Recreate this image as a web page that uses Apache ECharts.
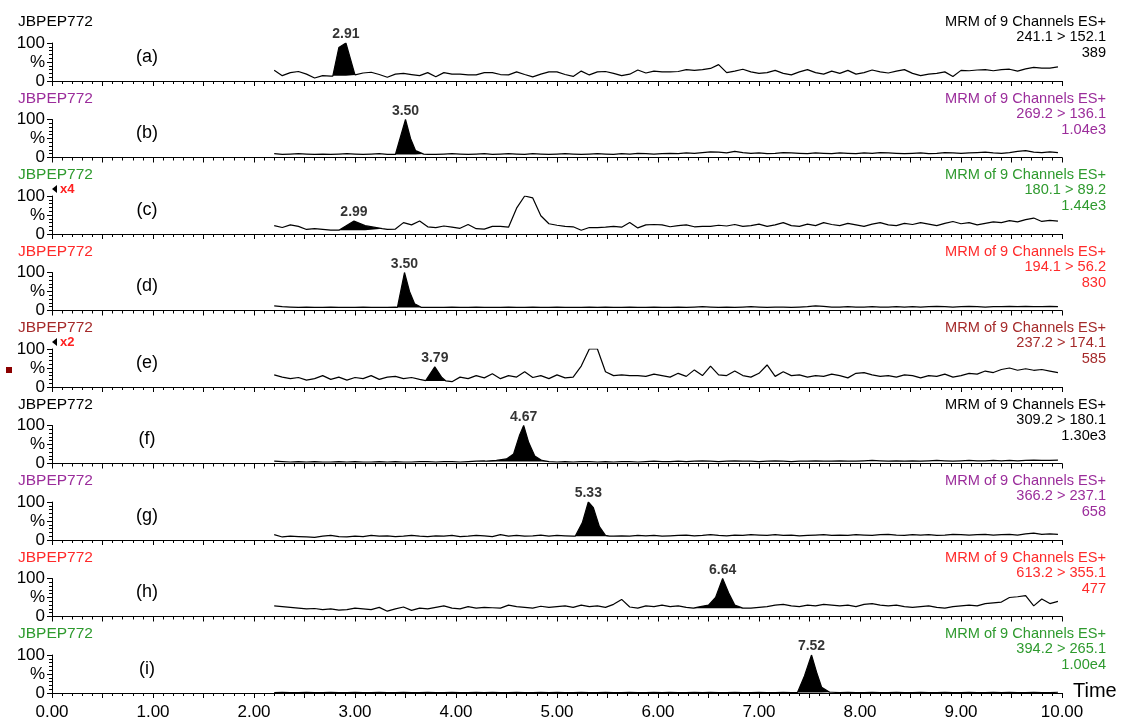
<!DOCTYPE html>
<html>
<head>
<meta charset="utf-8">
<title>MRM chromatograms JBPEP772</title>
<script src="https://cdn.jsdelivr.net/npm/echarts@6.0.0/dist/echarts.min.js"></script>
<style>
  html, body { margin: 0; padding: 0; background: #fff; }
  #chart { width: 1122px; height: 723px; }
</style>
</head>
<body>
<div id="chart"></div>
<script>
// sampling times (min) shared by all traces
const TIMES = [
  2.20, 2.28, 2.36, 2.44, 2.52, 2.60, 2.68, 2.76, 2.84, 2.92,
  3.00, 3.08, 3.16, 3.24, 3.32, 3.40, 3.48, 3.56, 3.64, 3.72,
  3.80, 3.88, 3.96, 4.04, 4.12, 4.20, 4.28, 4.36, 4.44, 4.52,
  4.60, 4.68, 4.76, 4.84, 4.92, 5.00, 5.08, 5.16, 5.24, 5.32,
  5.40, 5.48, 5.56, 5.64, 5.72, 5.80, 5.88, 5.96, 6.04, 6.12,
  6.20, 6.28, 6.36, 6.44, 6.52, 6.60, 6.68, 6.76, 6.84, 6.92,
  7.00, 7.08, 7.16, 7.24, 7.32, 7.40, 7.48, 7.56, 7.64, 7.72,
  7.80, 7.88, 7.96, 8.04, 8.12, 8.20, 8.28, 8.36, 8.44, 8.52,
  8.60, 8.68, 8.76, 8.84, 8.92, 9.00, 9.08, 9.16, 9.24, 9.32,
  9.40, 9.48, 9.56, 9.64, 9.72, 9.80, 9.88, 9.96
];

// relative intensity (%) of each channel on TIMES
const A_VALUES = [
  28, 14, 22, 25, 18, 8, 14, 13, 15, 15,
  16, 21, 23, 17, 10, 18, 20, 17, 14, 22,
  11, 22, 18, 18, 16, 16, 22, 22, 17, 16,
  24, 17, 11, 18, 24, 24, 17, 12, 26, 16,
  24, 25, 20, 14, 18, 29, 21, 26, 24, 24,
  25, 30, 28, 30, 33, 43, 22, 26, 31, 24,
  20, 22, 28, 20, 16, 24, 30, 22, 18, 26,
  20, 28, 18, 22, 29, 24, 21, 26, 30, 20,
  14, 18, 20, 24, 12, 28, 27, 29, 30, 27,
  30, 31, 26, 32, 36, 34, 34, 37
];
const B_VALUES = [
  10, 8, 9, 10, 9, 8, 9, 8, 9, 10,
  9, 8, 9, 10, 8, 9, 9, 9, 9, 8,
  8, 9, 10, 9, 8, 9, 10, 8, 9, 10,
  9, 8, 10, 9, 8, 9, 10, 9, 8, 9,
  10, 9, 8, 10, 9, 11, 10, 9, 10, 11,
  10, 12, 11, 13, 15, 14, 12, 16, 13, 11,
  12, 10, 11, 13, 12, 11, 10, 12, 11, 10,
  12, 11, 10, 12, 11, 13, 12, 11, 10, 11,
  12, 10, 11, 13, 12, 11, 12, 13, 14, 12,
  11, 13, 16, 18, 14, 13, 15, 13
];
const C_VALUES = [
  22, 17, 24, 20, 12, 14, 12, 10, 10, 20,
  30, 22, 17, 15, 12, 13, 30, 24, 34, 19,
  17, 21, 18, 15, 25, 14, 13, 20, 20, 18,
  68, 100, 95, 48, 27, 23, 20, 19, 10, 17,
  17, 18, 20, 18, 30, 16, 24, 25, 24, 19,
  22, 24, 19, 20, 20, 23, 21, 25, 20, 22,
  26, 20, 24, 30, 22, 20, 26, 22, 30, 25,
  22, 28, 24, 20, 26, 30, 24, 22, 28, 25,
  30, 26, 22, 28, 33, 27, 30, 24, 28, 32,
  30, 35, 32, 38, 42, 33, 36, 34
];
const D_VALUES = [
  12, 10, 9, 8, 9, 8, 8, 9, 8, 8,
  8, 9, 8, 8, 8, 9, 8, 8, 9, 8,
  8, 8, 9, 8, 8, 9, 8, 8, 8, 9,
  8, 8, 9, 8, 8, 9, 8, 8, 8, 9,
  8, 9, 8, 8, 9, 8, 8, 9, 8, 8,
  9, 8, 9, 10, 9, 8, 9, 8, 9, 10,
  9, 8, 9, 9, 8, 9, 10, 12, 11, 9,
  9, 10, 9, 9, 10, 9, 9, 10, 9, 10,
  9, 10, 11, 10, 9, 10, 11, 10, 9, 10,
  10, 11, 10, 11, 10, 10, 11, 10
];
const E_VALUES = [
  32, 26, 22, 25, 18, 22, 30, 20, 26, 18,
  25, 22, 30, 20, 26, 28, 22, 25, 20, 18,
  20, 20, 14, 26, 22, 30, 24, 35, 22, 30,
  26, 40, 25, 30, 22, 32, 24, 26, 55, 100,
  100, 40, 30, 32, 30, 30, 28, 34, 30, 26,
  36, 28, 45, 30, 55, 32, 30, 42, 30, 26,
  36, 58, 28, 40, 30, 32, 26, 30, 28, 34,
  30, 24, 36, 38, 32, 28, 30, 26, 32, 30,
  24, 30, 28, 34, 26, 30, 36, 34, 42, 38,
  46, 50, 44, 48, 44, 46, 42, 38
];
const F_VALUES = [
  6, 5, 4, 5, 4, 5, 4, 4, 5, 4,
  5, 4, 4, 5, 4, 5, 4, 4, 5, 5,
  4, 5, 5, 4, 5, 6, 7, 6, 8, 10,
  20, 70, 30, 8, 5, 4, 5, 4, 5, 5,
  4, 5, 4, 5, 5, 4, 5, 6, 5, 5,
  6, 5, 6, 7, 6, 5, 6, 7, 6, 6,
  5, 6, 7, 6, 5, 6, 6, 7, 6, 6,
  7, 6, 6, 7, 8, 7, 6, 7, 6, 7,
  6, 7, 8, 7, 6, 7, 8, 7, 7, 8,
  7, 8, 7, 8, 9, 8, 8, 9
];
const G_VALUES = [
  14, 8, 10, 9, 8, 7, 10, 12, 9, 8,
  10, 9, 12, 10, 11, 9, 10, 12, 10, 9,
  11, 10, 12, 9, 10, 12, 11, 9, 14, 10,
  12, 10, 11, 13, 10, 12, 11, 10, 12, 40,
  50, 15, 10, 11, 10, 12, 11, 12, 10, 11,
  12, 13, 11, 12, 14, 12, 11, 13, 12, 14,
  13, 12, 14, 12, 13, 11, 12, 13, 14, 12,
  13, 12, 14, 13, 12, 14, 15, 13, 12, 14,
  13, 14, 12, 13, 15, 14, 13, 14, 15, 13,
  14, 15, 13, 16, 18, 15, 16, 15
];
const H_VALUES = [
  28, 26, 24, 22, 20, 21, 18, 20, 17, 18,
  22, 20, 18, 24, 14, 20, 25, 16, 22, 20,
  24, 28, 22, 20, 26, 22, 24, 23, 22, 30,
  26, 24, 22, 27, 24, 26, 28, 24, 30, 26,
  28, 24, 32, 45, 25, 22, 28, 26, 30, 26,
  28, 24, 22, 24, 26, 30, 28, 25, 24, 22,
  24, 26, 30, 32, 28, 26, 30, 28, 32, 30,
  28, 30, 26, 32, 34, 30, 28, 30, 26, 24,
  26, 28, 24, 22, 26, 28, 30, 28, 34, 36,
  38, 50, 52, 55, 28, 46, 34, 40
];
const I_VALUES = [
  1, 2, 1, 1, 2, 1, 1, 2, 1, 1,
  2, 1, 1, 2, 1, 1, 2, 1, 1, 2,
  1, 1, 2, 1, 1, 2, 1, 2, 1, 1,
  2, 1, 1, 2, 1, 2, 1, 1, 2, 1,
  1, 2, 1, 1, 2, 1, 1, 2, 1, 2,
  1, 1, 2, 1, 2, 1, 1, 2, 1, 1,
  2, 1, 1, 2, 1, 1, 2, 1, 1, 2,
  1, 2, 1, 1, 2, 1, 1, 2, 1, 1,
  2, 1, 1, 2, 1, 1, 2, 1, 1, 2,
  1, 2, 1, 1, 2, 1, 1, 2
];

// integrated peaks: [time, %]
const A_PEAK = [[2.78, 13], [2.84, 88], [2.91, 100], [3.00, 16]];
const B_PEAK = [[3.40, 8], [3.50, 100], [3.55, 50], [3.60, 18], [3.68, 9]];
const C_PEAK = [[2.84, 10], [2.99, 34], [3.10, 22], [3.27, 14]];
const D_PEAK = [[3.42, 8], [3.49, 100], [3.54, 50], [3.59, 18], [3.66, 8]];
const E_PEAK = [[3.70, 17], [3.79, 53], [3.86, 25], [3.90, 16]];
const F_PEAK = [[4.30, 6], [4.40, 8], [4.50, 12], [4.57, 25], [4.63, 75], [4.67, 100],
                [4.72, 55], [4.78, 20], [4.85, 8], [4.92, 5]];
const G_PEAK = [[5.18, 10], [5.25, 45], [5.31, 100], [5.36, 85], [5.42, 35], [5.48, 12], [5.52, 10]];
const H_PEAK = [[6.35, 22], [6.42, 26], [6.50, 30], [6.57, 50], [6.64, 100], [6.70, 62],
                [6.76, 30], [6.84, 22]];
const I_PEAK = [[7.38, 1], [7.45, 45], [7.52, 100], [7.57, 55], [7.62, 15], [7.70, 2]];

const PEAK_BASES = [14, 8, 10, 8, 16, 5, 10, 22, 1];
const PEAK_LABELS = ['2.91', '3.50', '2.99', '3.50', '3.79', '4.67', '5.33', '6.64', '7.52'];

const PANEL_TAGS = ['(a)', '(b)', '(c)', '(d)', '(e)', '(f)', '(g)', '(h)', '(i)'];
const TRANSITIONS = ['241.1 > 152.1', '269.2 > 136.1', '180.1 > 89.2', '194.1 > 56.2', '237.2 > 174.1',
                     '309.2 > 180.1', '366.2 > 237.1', '613.2 > 355.1', '394.2 > 265.1'];
const INTENSITIES = ['389', '1.04e3', '1.44e3', '830', '585', '1.30e3', '658', '477', '1.00e4'];
const SCALES = ['', '', 'x4', '', 'x2', '', '', '', ''];
const PANEL_COLORS = ['#000000', '#9b2d9b', '#2e9a2e', '#ff2a2a', '#a52a2a',
                      '#000000', '#9b2d9b', '#ff2a2a', '#2e9a2e'];

const VALUES = [A_VALUES, B_VALUES, C_VALUES, D_VALUES, E_VALUES, F_VALUES, G_VALUES, H_VALUES, I_VALUES];
const PEAKS = [A_PEAK, B_PEAK, C_PEAK, D_PEAK, E_PEAK, F_PEAK, G_PEAK, H_PEAK, I_PEAK];

const FONT = '"Liberation Sans", Arial, Helvetica, sans-serif';
const LEFT = 52, PLOT_W = 1010, FIRST_ZERO = 81, PITCH = 76.5, PANEL_H = 38;

// noise trace outside the peak + the peak points themselves
function traceLine(values, peak) {
  const start = peak[0][0], end = peak[peak.length - 1][0];
  const pts = [];
  TIMES.forEach((t, i) => {
    if (t < start || t > end) pts.push([t, values[i]]);
  });
  peak.forEach(p => pts.push(p));
  return pts.sort((a, b) => a[0] - b[0]);
}

function apexOf(peak) {
  let best = peak[0];
  peak.forEach(p => { if (p[1] > best[1]) best = p; });
  return best;
}

const grids = [], xAxes = [], yAxes = [], series = [], graphics = [];

VALUES.forEach((vals, k) => {
  const zero = FIRST_ZERO + PITCH * k;
  const last = k === VALUES.length - 1;
  const color = PANEL_COLORS[k];

  grids.push({ left: LEFT, width: PLOT_W, top: zero - PANEL_H, height: PANEL_H });

  xAxes.push({
    gridIndex: k, type: 'value', min: 0, max: 10, interval: 0.5,
    axisLine: { show: true, onZero: false, lineStyle: { color: '#000', width: 1 } },
    axisTick: { show: true, length: 5, lineStyle: { color: '#000', width: 1 } },
    minorTick: { show: true, splitNumber: 5, length: 3, lineStyle: { color: '#000', width: 1 } },
    splitLine: { show: false },
    axisLabel: {
      show: last, color: '#000', fontSize: 17, fontFamily: FONT, margin: 11,
      formatter: v => (Math.abs(v - Math.round(v)) < 1e-6 ? v.toFixed(2) : '')
    }
  });

  yAxes.push({
    gridIndex: k, type: 'value', min: 0, max: 100, interval: 50,
    axisLine: { show: true, lineStyle: { color: '#000', width: 1 } },
    axisTick: { show: true, length: 5, lineStyle: { color: '#000', width: 1 } },
    minorTick: { show: true, splitNumber: 5, length: 3, lineStyle: { color: '#000', width: 1 } },
    splitLine: { show: false },
    axisLabel: {
      color: '#000', fontSize: 17, fontFamily: FONT, margin: 7,
      formatter: v => (v === 50 ? '%' : String(v))
    }
  });

  const peak = PEAKS[k];
  // filled peak
  series.push({
    type: 'line', xAxisIndex: k, yAxisIndex: k, data: peak,
    symbol: 'none', silent: true, z: 2,
    lineStyle: { width: 0 },
    areaStyle: { color: '#000', opacity: 1, origin: PEAK_BASES[k] }
  });
  // chromatogram trace
  series.push({
    type: 'line', xAxisIndex: k, yAxisIndex: k, data: traceLine(vals, peak),
    symbol: 'none', silent: true, z: 3,
    lineStyle: { color: '#000', width: 1.2 }
  });
  // retention time label
  series.push({
    type: 'scatter', xAxisIndex: k, yAxisIndex: k, data: [apexOf(peak)],
    symbolSize: 1, itemStyle: { color: 'rgba(0,0,0,0)' }, silent: true, z: 4,
    label: {
      show: true, position: 'top', distance: 1, formatter: PEAK_LABELS[k],
      color: '#000', fontWeight: 'bold', fontSize: 14, fontFamily: FONT
    }
  });

  graphics.push(
    { type: 'text', x: 18, y: zero - 59,
      style: { text: 'JBPEP772', fill: color, font: '15.5px ' + FONT, align: 'left', verticalAlign: 'middle' } },
    { type: 'text', x: 147, y: zero - 24,
      style: { text: PANEL_TAGS[k], fill: '#000', font: '18px ' + FONT, align: 'center', verticalAlign: 'middle' } },
    { type: 'text', x: 1106, y: zero - 59,
      style: { text: 'MRM of 9 Channels ES+', fill: color, font: '14.6px ' + FONT, align: 'right', verticalAlign: 'middle' } },
    { type: 'text', x: 1106, y: zero - 44,
      style: { text: TRANSITIONS[k], fill: color, font: '14.6px ' + FONT, align: 'right', verticalAlign: 'middle' } },
    { type: 'text', x: 1106, y: zero - 28,
      style: { text: INTENSITIES[k], fill: color, font: '14.6px ' + FONT, align: 'right', verticalAlign: 'middle' } }
  );

  if (SCALES[k]) {
    graphics.push(
      { type: 'polygon', shape: { points: [[52, zero - 45], [57, zero - 49], [57, zero - 41]] },
        style: { fill: '#000' } },
      { type: 'text', x: 60, y: zero - 45,
        style: { text: SCALES[k], fill: '#ff2020', font: 'bold 13px ' + FONT, align: 'left', verticalAlign: 'middle' } }
    );
  }
  if (k === 4) {
    graphics.push({ type: 'rect', shape: { x: 6, y: zero - 20, width: 6, height: 6 }, style: { fill: '#8b0000' } });
  }
});

graphics.push({
  type: 'text', x: 1073, y: FIRST_ZERO + PITCH * 8 - 2,
  style: { text: 'Time', fill: '#000', font: '20px ' + FONT, align: 'left', verticalAlign: 'middle' }
});

const chart = echarts.init(document.getElementById('chart'));
chart.setOption({
  animation: false,
  backgroundColor: '#fff',
  grid: grids,
  xAxis: xAxes,
  yAxis: yAxes,
  series: series,
  graphic: graphics
});
</script>
</body>
</html>
